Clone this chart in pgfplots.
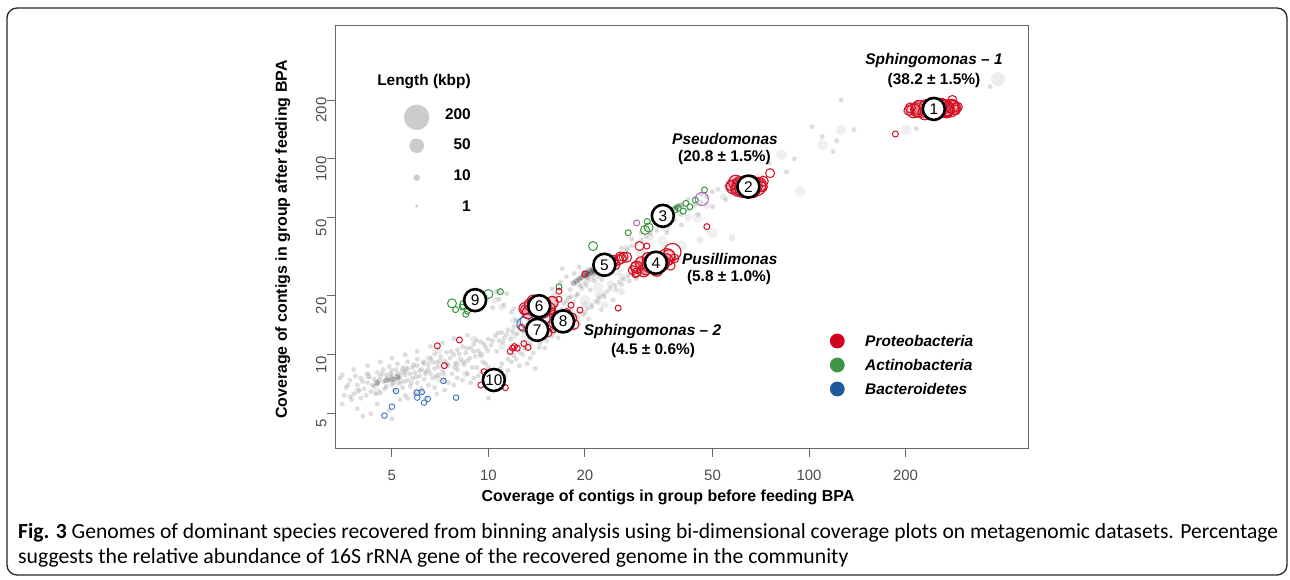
\documentclass[border=0pt]{standalone}
\usepackage{graphicx}
\usepackage{pgfplots}
\pgfplotsset{compat=1.18}
\usepackage{fontspec}
\setmainfont{Liberation Sans}
\newfontfamily\capfont{Carlito}
\definecolor{pred}{RGB}{212,16,36}
\definecolor{pgreen}{RGB}{55,150,65}
\definecolor{pblue}{RGB}{55,115,190}
\definecolor{ppurple}{RGB}{170,100,185}
\definecolor{legred}{RGB}{210,0,30}
\definecolor{leggreen}{RGB}{60,150,70}
\definecolor{legblue}{RGB}{30,90,155}
\newcommand\anfont{\fontsize{15.5}{18}\selectfont\bfseries\itshape}
\newcommand\anfontup{\fontsize{15.5}{18}\selectfont\bfseries}
\begin{document}
\begin{tikzpicture}
\begin{scope}[x=1bp,y=1bp]
\useasboundingbox (0,0) rectangle (1290,580);
\draw[line width=1.3bp, rounded corners=10bp, black!85] (7,5) rectangle (1287,572);
\end{scope}
\begin{axis}[at={(335.7bp,132bp)}, anchor=south west, scale only axis,
  width=692.3bp, height=423bp,
  xmode=log, ymode=log,
  xmin=3.34, xmax=482, ymin=3.34, ymax=483,
  xminorticks=false, yminorticks=false,
  axis line style={black!60, line width=0.9bp},
  xtick={5,10,20,50,100,200}, xticklabels={5,10,20,50,100,200},
  ytick={5,10,20,50,100,200}, yticklabels={5,10,20,50,100,200},
  tick align=outside, major tick length=9bp,
  tick style={black!60, line width=0.9bp},
  xtick pos=bottom, ytick pos=left,
  ticklabel style={font=\fontsize{15}{15}\selectfont, text=black!70},
  xticklabel style={anchor=north, inner sep=0pt, yshift=-13bp},
  yticklabel style={rotate=90, anchor=south, inner sep=0pt, xshift=-10bp},
]
% ---- grey contigs (small)
\addplot[only marks, mark=*, mark size=2.5bp, draw=none, mark options={draw=black!55, draw opacity=0, fill=black!55, fill opacity=0.24}] coordinates {
(3.6,6.8)(3.7,7.4)(3.8,6.3)(3.9,7.0)(4.0,7.6)(4.0,6.0)(4.1,6.7)(4.2,7.2)(4.2,8.0)(4.3,6.5)
(4.4,7.5)(4.4,6.9)(4.5,8.1)(4.5,7.1)(4.6,6.4)(4.6,7.7)(4.7,7.3)(4.7,8.4)(4.8,6.9)(4.8,7.9)
(4.9,7.4)(4.9,8.7)(5.0,7.0)(5.0,7.8)(5.0,8.3)(5.1,6.6)(5.1,7.5)(5.2,8.0)(5.2,9.0)(5.3,7.2)
(5.3,7.7)(5.4,8.5)(5.4,6.8)(5.5,7.9)(5.5,8.2)(5.6,7.4)(5.6,9.2)(5.7,8.0)(5.7,6.9)(5.8,8.6)
(5.8,7.6)(5.9,8.1)(6.0,7.2)(6.0,8.8)(6.0,9.5)(6.1,7.8)(6.2,8.4)(6.2,6.7)(6.3,9.0)(6.3,7.5)
(6.4,8.2)(6.5,8.9)(6.5,7.0)(6.6,9.6)(6.6,8.0)(6.7,7.6)(6.8,8.5)(6.8,10.1)(6.9,9.1)(7.0,7.9)
(7.0,8.7)(7.1,9.8)(7.2,8.3)(7.3,9.3)(7.3,7.4)(7.4,10.3)(7.5,8.8)(7.6,9.6)(7.7,8.0)(7.8,10.0)
(7.9,9.0)(8.0,10.6)(8.0,8.4)(8.2,9.5)(8.3,11.0)(8.4,8.9)(8.5,10.2)(8.6,9.3)(8.8,10.8)(8.9,8.6)
(9.0,11.3)(9.1,9.8)(9.3,10.5)(9.5,11.6)(9.6,9.2)(9.8,10.9)(10.0,12.0)(10.2,11.2)(10.5,12.5)(10.6,10.4)
(10.8,11.8)(11.0,13.0)(11.2,12.2)(11.5,13.4)(11.7,12.0)(12.0,13.9)(12.3,12.8)(12.6,14.5)(13.0,13.6)(13.3,15.0)
(13.6,14.0)(14.0,15.6)(14.5,14.8)(15.0,16.3)(15.5,15.5)(16.0,17.2)(16.6,16.4)(17.2,18.3)(17.8,19.5)(18.4,18.6)
(19.0,20.5)(19.6,21.8)(20.2,22.6)(20.8,21.5)(21.4,23.8)(22.0,25.0)(22.6,24.2)(23.2,26.5)
(3.5,5.6)(3.9,5.3)(4.3,5.0)(4.5,5.6)(4.9,5.2)(5.3,5.9)(5.5,6.2)(5.9,6.3)(6.4,6.0)(6.9,6.3)
(7.3,6.6)(7.8,7.0)(8.3,7.4)(8.8,7.2)(9.3,7.8)(3.45,7.6)(3.5,7.9)(3.8,8.4)(4.2,8.8)(4.6,9.2)
(5.0,9.6)(5.5,10.0)(6.0,10.4)(6.6,11.0)(7.2,11.5)(7.8,12.1)(8.6,12.6)(4.06,4.86)(5.0,4.7)(3.7,6.1)
(9.0,7.6)(9.5,8.2)(10.0,8.6)(10.5,8.2)(11.0,9.0)(11.5,9.5)(12.0,9.9)(12.5,10.3)(13.0,10.8)(13.5,11.4)
(14.0,12.0)(14.5,11.5)(15.0,12.6)(15.5,13.2)(16.0,13.0)(16.5,13.8)(17.0,14.5)(17.5,14.0)(18.0,15.2)(18.6,15.8)
(19.2,16.5)(19.8,16.0)(20.4,17.2)(21.0,18.0)(21.6,18.8)(22.2,19.5)(22.8,20.3)(23.4,21.0)(24.0,21.8)(24.8,22.6)
(25.6,23.5)(26.4,24.3)(27.2,25.2)(28.0,26.0)(29.0,24.5)(30.0,27.0)(31.0,28.0)(12.5,8.8)(11.5,8.3)(10.8,7.3)
(13.5,9.6)(15.0,10.8)(16.5,12.2)(18.5,13.5)(20.5,15.2)(22.5,17.0)(24.5,19.0)(14.0,8.5)(10.0,6.0)(11.0,6.9)
(24.0,30.0)(25.0,31.5)(26.0,33.0)(27.0,34.5)(28.0,36.0)(29.0,37.0)(30.0,38.5)(31.0,40.0)(32.0,41.5)(33.5,43.0)
(35.0,45.0)(36.5,47.0)(38.0,49.0)(40.0,52.0)(42.0,55.0)(44.0,58.0)(46.0,60.0)(48.0,64.0)(50.0,68.0)(52.0,70.0)
(55.0,72.0)(38,56)(34,50)(31,44)(42,62)(46,66)(30,42)(28,39)(26,35)(27,31)
(36,42)(40,46)(45,52)(50,57)(55,62)(60,68)(10.3,17.4)(10.8,19.2)(11.2,18.0)(11.4,20.5)
(10.6,21.0)(11.8,16.5)(12.2,15.0)(9.6,18.2)(9.9,19.6)(12.0,17.2)(14.8,19.5)(15.8,21.7)(16.8,23.5)(17.5,25.0)
(18.5,26.0)(19.2,28.0)(17.0,27.5)(18.0,21.5)(13.5,12.5)(14.2,13.0)(15.2,14.3)(16.2,15.0)(17.4,16.0)(102,146)
(138,141)(122,124)(119,109)(126,200)(216,143)(367,234)(90,100)(110,130)(85,86)(75,95)
(3.55,6.2)(3.65,7.0)(3.75,5.9)(3.85,7.8)(3.95,6.6)(4.05,7.3)(4.15,6.2)(4.25,7.7)(4.35,7.0)(4.45,6.3)
(4.55,7.4)(4.65,8.0)(4.75,6.7)(4.85,7.6)(4.95,8.0)(5.05,7.2)(5.15,8.4)(5.25,7.6)(5.35,8.1)(5.45,7.3)
(5.6,8.5)(5.75,7.2)(5.85,8.9)(5.95,7.7)(6.1,8.3)(6.25,9.2)(6.35,8.0)(6.5,8.4)(6.7,9.2)(6.85,7.8)
(7.05,9.3)(7.25,8.0)(7.45,9.0)(7.65,10.4)(7.85,8.6)(8.1,10.1)(8.35,9.2)(8.55,10.8)(8.75,9.6)(9.0,10.4)
(9.2,11.8)(9.45,10.0)(9.7,11.3)(9.95,10.5)(10.3,11.8)(10.7,12.9)(11.1,11.6)(11.4,12.7)(11.9,13.2)(12.4,14.0)
(12.8,13.1)(13.2,14.3)(13.8,15.0)(14.3,14.2)(14.8,15.6)(15.3,16.8)(15.8,16.0)(16.3,17.8)(16.9,17.0)(17.5,18.8)
(18.1,19.8)(18.8,20.0)(19.4,22.5)(20.0,23.4)(20.6,24.0)(21.2,24.8)(10.2,8.0)(10.9,8.5)(11.3,7.8)(11.8,9.2)
(12.2,9.5)(12.8,10.0)(13.2,9.0)(13.8,10.2)(14.4,10.9)(15.2,11.8)(15.8,12.4)(16.8,13.2)(17.8,14.6)(19.0,15.5)
(20.0,16.5)(21.0,17.5)(22.0,18.5)(23.0,19.8)(25.0,21.5)(26.0,22.8)(27.5,23.8)(29.5,26.5)(32,29)(33,28)
(8.0,7.6)(8.6,8.0)(9.2,8.6)(9.8,9.0)(7.5,7.2)(6.8,6.8)(6.2,6.4)(5.6,6.0)
};
% ---- grey contigs (medium)
\addplot[only marks, mark=*, mark size=3.6bp, draw=none, mark options={draw=black!50, draw opacity=0, fill=black!50, fill opacity=0.16}] coordinates {
(5.5,8.5)(6.5,9.5)(8,9)(9.5,10)(11,11)(12,12.5)(13.5,13)(15,14)(17,15.5)(18,17)
(20,18)(22,20)(24,23)(26,25)(28,27)(30,29)(32,31)(27,35)(32,40)(36,44)
(42,50)(48,58)(54,64)(58,68)(45.7,38.6)(57.5,39.6)(16,20)(19,23)(14,17)(12,15)
(10.5,19)(11,17.5)(10.8,21)(4.5,6.5)(7,7.5)(6,6.5)(8.5,8)(9,12)(7,10.5)(13,11)
(15,12.5)(19,14.5)(23,18)(26,21)(33,26)(36,30)(39,31)(4.2,7.8)(5.2,7.2)(3.9,6.5)
};
% ---- grey contigs (large)
\addplot[only marks, mark=*, mark size=5.5bp, draw=none, mark options={draw=black!45, draw opacity=0, fill=black!45, fill opacity=0.13}] coordinates {
(82,105)(126,141)(201,141)(93.8,68)(56.5,73)(60,76)(30,33)(40,36)(50,42)(22,22)
(25,27)(18,16)(13,12)(16,13.5)(45,50)(70,80)(110,118)(35,38)(12,11)(20,19)
};
\addplot[only marks, mark=*, mark size=7bp, draw=none, mark options={draw=black!45, draw opacity=0, fill=black!45, fill opacity=0.16}] coordinates {(389,256)};
% ---- dark grey concentrations
\addplot[only marks, mark=*, mark size=3bp, draw=none, mark options={draw=black!80, draw opacity=0, fill=black!80, fill opacity=0.3}] coordinates {
(19.8,25.5)(20.3,26.0)(20.8,26.4)(21.3,26.9)(20.5,25.6)(21.0,26.2)(19.5,24.8)(21.6,27.3)(22.0,27.8)(20.0,26.3)
(21.2,27.5)(20.6,27.0)(19.2,24.3)(18.8,23.8)(18.4,23.2)(20.2,25.0)(21.5,26.2)(37,55)(38.5,56.5)(40,58)(39,57.5)
(4.8,7.4)(5.2,7.7)(4.5,7.2)(5.0,7.5)
};
% ---- Bacteroidetes
\addplot[only marks, mark=o, mark size=2.8bp, pblue, line width=0.9bp] coordinates {
(4.74,4.89)(5.0,5.43)(5.15,6.53)(5.98,6.4)(6.2,6.44)(6.0,6.04)(6.47,5.95)(6.3,5.69)(7.24,7.35)(7.93,6.04)
};
\addplot[only marks, mark=o, mark size=7bp, pblue, line width=1bp] coordinates {(12.9,14.3)(13.2,14.8)(14.8,15.3)};
% ---- Actinobacteria
\addplot[only marks, mark=o, mark size=3bp, pgreen, line width=1bp] coordinates {
(7.9,17.0)(8.5,16.1)(8.3,17.5)(8.8,18.5)(10.9,21)(27.3,42)(31.3,47.9)(38.2,54.8)(39.1,56)(41.3,59.3)
(40.5,54.1)(44.2,61.7)(47.2,69.4)(42.5,57)(37,53)(36,55)(16.6,22.2)(8.6,16.7)
};
\addplot[only marks, mark=o, mark size=4.5bp, pgreen, line width=1bp] coordinates {
(7.7,18.3)(10,20.4)(21.2,35.9)(30.8,43.4)(31.6,44.6)(8.8,19.0)(8.4,18.0)
};
% ---- other
\addplot[only marks, mark=o, mark size=3bp, ppurple, line width=1bp] coordinates {(29,47.1)};
\addplot[only marks, mark=o, mark size=6.5bp, ppurple, line width=1bp] coordinates {(46.3,62.4)};
% ---- Proteobacteria
\addplot[only marks, mark=o, mark size=3bp, pred, line width=1bp] coordinates {
(6.93,11.1)(8.12,11.9)(7.29,8.8)(9.7,8.19)(9.47,7.0)(11.3,6.79)(11.7,10.4)(11.9,10.8)(12.3,10.8)(12.05,11.0)
(12.9,11.4)(13.3,10.9)(12.7,13.8)(16.6,21.1)(16.6,19.2)(18.1,17.9)(19.3,16.9)(25.4,17.3)(15.9,13.4)(20,25.8)
(28.7,25.6)(48,45.1)(31.2,35.9)(186,134)(17.8,15.9)(15.9,16.6)(23.8,27.6)
};
\addplot[only marks, mark=o, mark size=4.5bp, pred, line width=1bp] coordinates {
(29.6,35.9)(75.6,84.6)(280,200)(25.7,31.7)(26.4,31.7)(28.7,28.2)(13.0,17.0)(16.0,16.0)(24.6,30.5)
(28.2,27)(29,26.3)(38,31)(37,28.5)(15.5,14.0)(15.3,13.0)
};
\addplot[only marks, mark=o, mark size=5bp, pred, line width=1.1bp] coordinates {
(207,182)(290,184)(286,178)(205,177)(71.5,72)(72,77)(57,73)
(24.5,29.5)(25.5,30.5)(26,31)(24.8,28.8)(27,31.5)
(16.3,15.6)(16.8,14.2)(17.5,15.0)(18.2,15.4)(16.0,14.5)(17.5,16.2)(18.5,14.3)
};
\addplot[only marks, mark=*, mark size=6bp, draw=pred, line width=1.1bp, mark options={fill=pred, fill opacity=0.22}] coordinates {
(29,28)(30,29.5)(31,27.5)(32,30)(33,28.5)(34,31)(35,29)(36,30.5)(31.5,31)(33.5,27)(30.5,26.8)(36.5,32)
(13.0,17.2)(13.5,18)(14,16.8)(14.5,17.6)(15,18.3)(15.5,17.2)(13.3,16.4)(14.8,16.5)(15.8,18.5)(13.8,18.8)
};
\addplot[only marks, mark=*, mark size=7bp, draw=pred, line width=1.1bp, mark options={fill=pred, fill opacity=0.22}] coordinates {
(212,176)(220,183)(232,185)(240,176)(248,182)(262,184)(270,180)(278,186)(230,172)(252,174)(268,176)(282,183)(218,178)(258,188)
(58,72)(60,70)(61,75)(63,73)(65,71)(66,76)(68,73)(70,74)(59,76)(62,69)(67,69)
};
\addplot[only marks, mark=o, mark size=8.5bp, pred, line width=1.1bp] coordinates {
(222,180)(245,179)(265,182)(276,181)(61,72)(64,74)(69,72)(32,29)(34.5,29.5)(36,31.5)(37.5,33.5)
};
% ---- numbered genome bins
\addplot[only marks, mark=*, mark size=11bp, mark options={fill=white, draw=black, line width=2.6bp}] coordinates {
(245,180)(64.7,72.2)(35.0,51.2)(33.3,29.5)(23.0,28.8)(14.4,17.7)(14.2,13.4)(17.1,14.8)(9.09,19.0)(10.4,7.43)
};
\coordinate (n1) at (axis cs:245,180);
\coordinate (n2) at (axis cs:64.7,72.2);
\coordinate (n3) at (axis cs:35.0,51.2);
\coordinate (n4) at (axis cs:33.3,29.5);
\coordinate (n5) at (axis cs:23.0,28.8);
\coordinate (n6) at (axis cs:14.4,17.7);
\coordinate (n7) at (axis cs:14.2,13.4);
\coordinate (n8) at (axis cs:17.1,14.8);
\coordinate (n9) at (axis cs:9.09,19.0);
\coordinate (n10) at (axis cs:10.4,7.43);
\end{axis}
\begin{scope}[x=1bp,y=1bp]
\foreach \i in {1,...,10} {\node[font=\fontsize{15.5}{15.5}\selectfont, inner sep=0pt, anchor=center] at (n\i) {\i};}
% ---- annotations
\node[font=\anfont] at (934,519.3) {Sphingomonas – 1};
\node[font=\anfontup] at (934,499.3) {(38.2 ± 1.5\%)};
\node[font=\anfont] at (725,441) {Pseudomonas};
\node[font=\anfontup] at (724.5,422.3) {(20.8 ± 1.5\%)};
\node[font=\anfont] at (729.7,320.7) {Pusillimonas};
\node[font=\anfontup] at (729,302) {(5.8 ± 1.0\%)};
\node[font=\anfont] at (652.5,248) {Sphingomonas – 2};
\node[font=\anfontup] at (653,229.3) {(4.5 ± 0.6\%)};
% ---- size legend
\node[font=\anfontup] at (424,498.3) {Length (kbp)};
\fill[black!20] (416.7,462.7) circle (12.7);
\fill[black!20] (416.7,434.3) circle (7.3);
\fill[black!20] (416.7,402.3) circle (3.3);
\fill[black!20] (416.7,374) circle (1.7);
\node[font=\anfontup, anchor=east, inner sep=0pt] at (471,466) {200};
\node[font=\anfontup, anchor=east, inner sep=0pt] at (471,436) {50};
\node[font=\anfontup, anchor=east, inner sep=0pt] at (471,405.3) {10};
\node[font=\anfontup, anchor=east, inner sep=0pt] at (471,373.5) {1};
% ---- phylum legend
\fill[legred] (837.3,239) circle (7.4);
\fill[leggreen] (837.3,215) circle (7.4);
\fill[legblue] (837.3,191) circle (7.4);
\node[font=\anfont, anchor=west, inner sep=0pt] at (865,239) {Proteobacteria};
\node[font=\anfont, anchor=west, inner sep=0pt] at (865,215) {Actinobacteria};
\node[font=\anfont, anchor=west, inner sep=0pt] at (865,191) {Bacteroidetes};
% ---- axis titles
\node[font=\fontsize{16}{16}\selectfont\bfseries] at (668,83) {Coverage of contigs in group before feeding BPA};
\node[font=\fontsize{16}{16}\selectfont\bfseries, rotate=90] at (282.7,340.3) {Coverage of contigs in group after feeding BPA};
% ---- caption
\node[anchor=base west, inner sep=0pt] at (18,41) {\resizebox{1260bp}{!}{\capfont\textbf{Fig. 3} Genomes of dominant species recovered from binning analysis using bi-dimensional coverage plots on metagenomic datasets. Percentage}};
\node[anchor=base west, inner sep=0pt] at (18,16) {\resizebox{830bp}{!}{\capfont suggests the relative abundance of 16S rRNA gene of the recovered genome in the community}};
\end{scope}
\end{tikzpicture}
\end{document}
